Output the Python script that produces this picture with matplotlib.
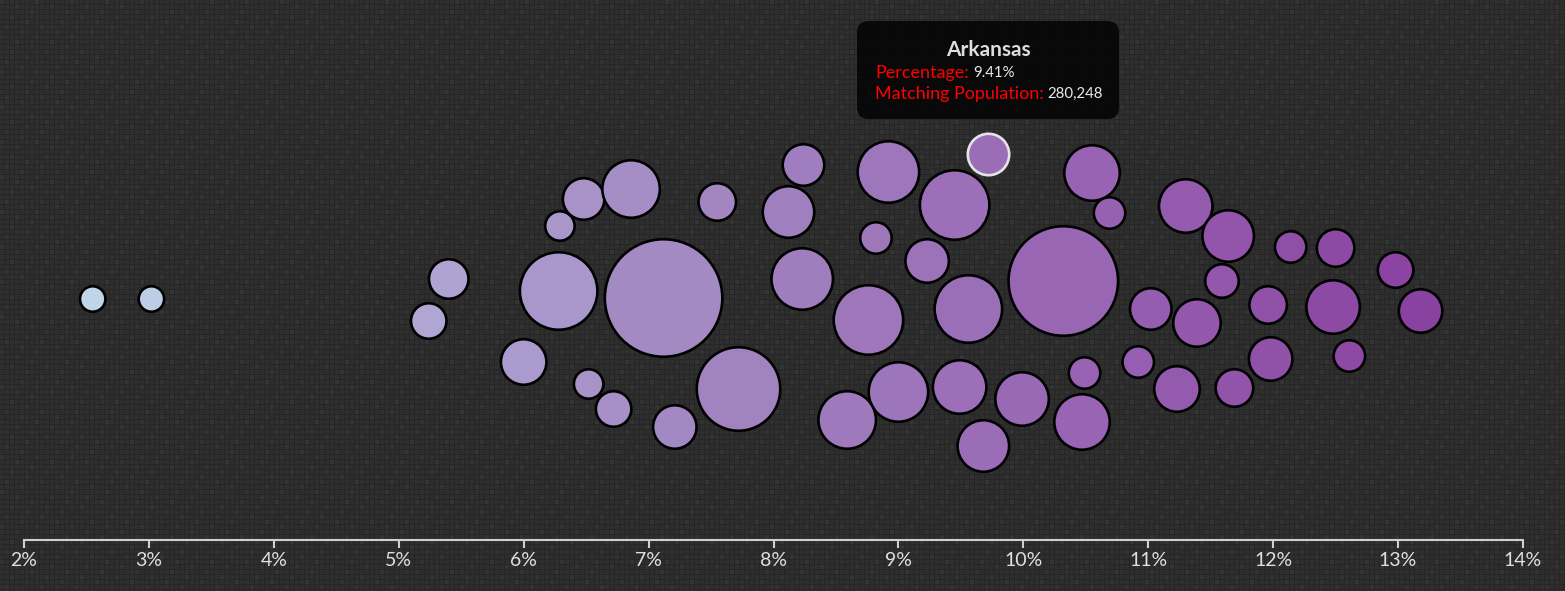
import matplotlib.pyplot as plt
import numpy as np
from matplotlib.colors import LinearSegmentedColormap, Normalize
from matplotlib.patches import FancyBboxPatch
from matplotlib.ticker import FuncFormatter

plt.rcParams['font.family'] = ['Lato', 'DejaVu Sans']

# percentage (x position in the swarm), vertical swarm offset, matching population
pct = [2.55, 3.02, 5.40, 5.24, 6.29, 6.48, 6.86, 6.28, 7.12, 6.00,
       6.52, 6.72, 7.21, 7.72, 7.55, 8.24, 8.12, 8.92, 8.82, 8.23,
       8.76, 9.00, 8.59, 9.72, 9.45, 9.23, 9.56, 10.32, 10.55, 10.69,
       9.49, 9.99, 9.68, 10.49, 10.47, 11.30, 11.64, 12.14, 12.50, 12.98,
       11.59, 11.02, 11.39, 11.96, 12.48, 13.18, 10.92, 11.23, 11.69, 11.98,
       12.61]
swarm_y = [-1, -1, 19, -23, 72, 99, 109, 7, 0, -64,
           -86, -111, -129, -91, 96, 133, 86, 126, 60, 19,
           -22, -94, -122, 144, 93, 37, -11, 17, 125, 85,
           -89, -101, -148, -75, -124, 92, 62, 51, 50, 28,
           17, -11, -25, -7, -9, -13, -64, -91, -90, -61,
           -58]
population = [106000, 106000, 255000, 206000, 142000, 282000, 541000, 982000, 2258000, 339000,
              142000, 206000, 309000, 1140000, 230000, 282000, 434000, 618000, 162000, 618000,
              790000, 579000, 541000, 280248, 790000, 309000, 745000, 1961000, 504000, 162000,
              468000, 468000, 434000, 162000, 504000, 468000, 434000, 162000, 230000, 206000,
              184000, 282000, 369000, 230000, 468000, 309000, 162000, 339000, 230000, 309000,
              162000]
tick_values = [2, 3, 4, 5, 6, 7, 8, 9, 10, 11, 12, 13, 14]

highlight = 23
tip_name = "Arkansas"
tip_pct = "9.41%"
tip_pop = "280,248"

W, H = 1565, 591
fig = plt.figure(figsize=(W / 100, H / 100), dpi=100)
fig.patch.set_facecolor('#2b2b2b')

# textured dark background (small square tiles)
bg = fig.add_axes([0, 0, 1, 1], zorder=0)
yy, xx = np.mgrid[0:H, 0:W]
ci, cj = yy // 5, xx // 5
tex = np.full((H, W), 0.150)
cell = (yy % 5 != 4) & (xx % 5 != 4)
tex[cell] = 0.180
tex[cell & ((ci * 37 + cj * 53) % 7 == 0)] = 0.205
tex[cell & ((ci * 13 + cj * 29) % 11 == 3)] = 0.195
bg.imshow(tex, cmap='gray', vmin=0, vmax=1, aspect='auto', interpolation='nearest')
bg.axis('off')

ax = fig.add_axes([24 / W, 51 / H, 1499 / W, 540 / H], zorder=1)
ax.patch.set_alpha(0)
ax.set_xlim(2, 14)
ax.set_ylim(-242, 298)

cmap = LinearSegmentedColormap.from_list(
    'bupu', [(0, '#c1d5ea'), (0.27, '#afa2d2'), (0.43, '#a38ac3'),
             (0.73, '#9966b4'), (1, '#8a42a0')])
norm = Normalize(min(pct), max(pct))

pop = np.array(population, dtype=float)
r_px = 0.0391 * np.sqrt(pop)
sizes = (2 * r_px * 0.72) ** 2
order = [i for i in range(len(pct)) if i != highlight]
ax.scatter([pct[i] for i in order], [swarm_y[i] for i in order],
           s=sizes[order], c=[cmap(norm(pct[i])) for i in order],
           edgecolors='black', linewidths=1.9, clip_on=False, zorder=2)
ax.scatter([pct[highlight]], [swarm_y[highlight]], s=[sizes[highlight]],
           c=[cmap(norm(pct[highlight]))], edgecolors='#e4e4e4',
           linewidths=1.9, clip_on=False, zorder=3)

for s in ['top', 'left', 'right']:
    ax.spines[s].set_visible(False)
ax.spines['bottom'].set_color('#d0d0d0')
ax.spines['bottom'].set_linewidth(1.5)
ax.set_yticks([])
ax.set_xticks(tick_values)
ax.xaxis.set_major_formatter(FuncFormatter(lambda v, p: f"{v:.0f}%"))
ax.tick_params(axis='x', direction='out', length=6, width=1.5, color='#d0d0d0',
               labelcolor='#e0e0e0', labelsize=14, pad=3)

# tooltip
ov = fig.add_axes([0, 0, 1, 1], zorder=5)
ov.set_xlim(0, W)
ov.set_ylim(H, 0)
ov.axis('off')
ov.add_patch(FancyBboxPatch((857, 21), 262, 98, boxstyle='round,pad=0,rounding_size=12',
                            facecolor='#070707', edgecolor='none', alpha=0.95))
ov.text(988, 50, tip_name, ha='center', va='center', color='#dddddd',
        fontsize=15, fontweight='bold')
ov.text(875, 73, "Percentage:", ha='left', va='center', color='#ff0000', fontsize=13)
ov.text(973, 73, tip_pct, ha='left', va='center', color='#e8e8e8', fontsize=10.8)
ov.text(875, 94, "Matching Population:", ha='left', va='center', color='#ff0000', fontsize=13)
ov.text(1047, 94, tip_pop, ha='left', va='center', color='#e8e8e8', fontsize=10.8)

plt.savefig("out.png", dpi=100, facecolor=fig.get_facecolor())
